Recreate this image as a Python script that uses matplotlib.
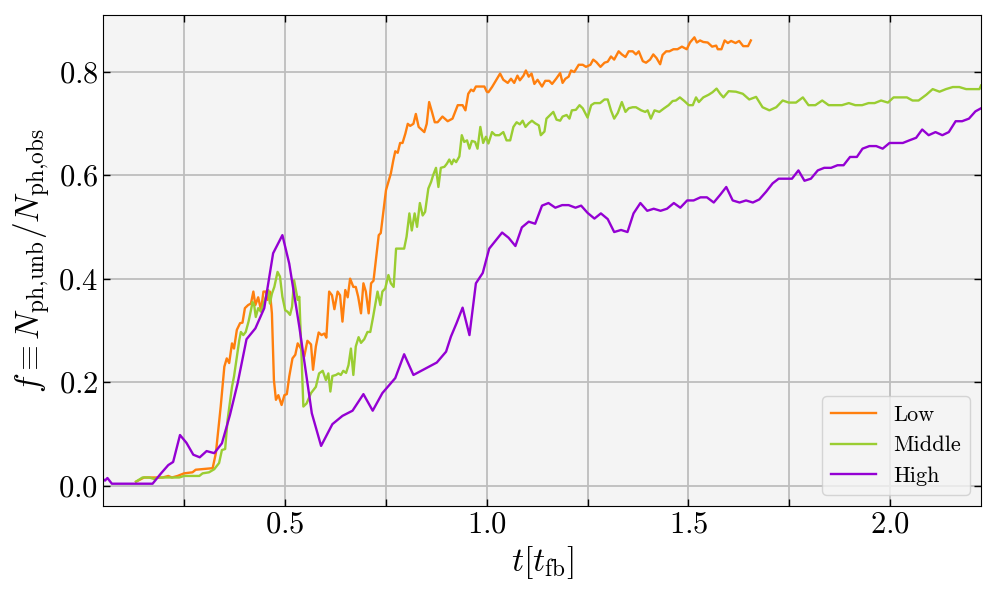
import matplotlib
matplotlib.use("Agg")
import matplotlib.pyplot as plt
from matplotlib.ticker import MultipleLocator

plt.rcParams["font.family"] = "serif"
plt.rcParams["font.serif"] = ["cmr10"]
plt.rcParams["mathtext.fontset"] = "cm"
plt.rcParams["axes.formatter.use_mathtext"] = True

# Low resolution run
t_low = [0.130, 0.150, 0.196, 0.210, 0.219, 0.233, 0.249, 0.270, 0.278, 0.320,
         0.328, 0.340, 0.349, 0.355, 0.361, 0.368, 0.373, 0.380, 0.388, 0.394,
         0.400, 0.408, 0.415, 0.421, 0.426, 0.433, 0.440, 0.446, 0.452, 0.456,
         0.462, 0.467, 0.472, 0.477, 0.483, 0.491, 0.498, 0.504, 0.510, 0.518,
         0.525, 0.531, 0.539, 0.547, 0.555, 0.564, 0.569, 0.576, 0.583, 0.590,
         0.597, 0.602, 0.609, 0.616, 0.622, 0.630, 0.636, 0.642, 0.649, 0.655,
         0.661, 0.669, 0.675, 0.681, 0.688, 0.694, 0.700, 0.707, 0.713, 0.719,
         0.725, 0.732, 0.737, 0.743, 0.750, 0.756, 0.762, 0.768, 0.773, 0.779,
         0.785, 0.791, 0.798, 0.804, 0.810, 0.818, 0.824, 0.831, 0.838, 0.845,
         0.851, 0.857, 0.864, 0.871, 0.878, 0.890, 0.903, 0.915, 0.928, 0.940,
         0.947, 0.954, 0.961, 0.967, 0.973, 0.986, 0.994, 1.000, 1.004, 1.013,
         1.023, 1.033, 1.041, 1.052, 1.060, 1.068, 1.076, 1.082, 1.091, 1.097,
         1.104, 1.111, 1.118, 1.126, 1.137, 1.145, 1.155, 1.162, 1.172, 1.182,
         1.188, 1.195, 1.203, 1.209, 1.217, 1.228, 1.238, 1.246, 1.257, 1.264,
         1.272, 1.282, 1.292, 1.300, 1.308, 1.316, 1.327, 1.335, 1.344, 1.352,
         1.362, 1.370, 1.377, 1.387, 1.395, 1.405, 1.413, 1.421, 1.430, 1.436,
         1.445, 1.453, 1.463, 1.473, 1.484, 1.496, 1.504, 1.515, 1.521, 1.529,
         1.537, 1.548, 1.559, 1.569, 1.573, 1.582, 1.590, 1.598, 1.606, 1.617,
         1.626, 1.636, 1.648, 1.655]
f_low = [0.008, 0.016, 0.016, 0.019, 0.016, 0.019, 0.024, 0.026, 0.031, 0.034,
         0.063, 0.153, 0.230, 0.246, 0.237, 0.275, 0.265, 0.301, 0.314, 0.315,
         0.343, 0.349, 0.352, 0.375, 0.349, 0.364, 0.339, 0.375, 0.375, 0.359,
         0.375, 0.333, 0.204, 0.166, 0.175, 0.156, 0.175, 0.177, 0.211, 0.246,
         0.253, 0.275, 0.265, 0.249, 0.280, 0.273, 0.224, 0.269, 0.296, 0.291,
         0.294, 0.286, 0.375, 0.368, 0.341, 0.375, 0.368, 0.317, 0.378, 0.364,
         0.400, 0.384, 0.384, 0.365, 0.333, 0.391, 0.375, 0.333, 0.391, 0.396,
         0.436, 0.484, 0.488, 0.526, 0.571, 0.587, 0.603, 0.628, 0.646, 0.643,
         0.662, 0.662, 0.680, 0.699, 0.695, 0.699, 0.718, 0.693, 0.688, 0.683,
         0.699, 0.741, 0.722, 0.702, 0.702, 0.713, 0.704, 0.709, 0.735, 0.735,
         0.725, 0.757, 0.765, 0.762, 0.771, 0.771, 0.771, 0.761, 0.760, 0.770,
         0.783, 0.796, 0.784, 0.778, 0.786, 0.778, 0.792, 0.783, 0.792, 0.802,
         0.790, 0.796, 0.776, 0.784, 0.771, 0.782, 0.782, 0.776, 0.786, 0.797,
         0.778, 0.786, 0.790, 0.802, 0.799, 0.813, 0.813, 0.809, 0.813, 0.823,
         0.818, 0.809, 0.817, 0.819, 0.829, 0.823, 0.839, 0.833, 0.828, 0.839,
         0.839, 0.833, 0.839, 0.820, 0.817, 0.823, 0.833, 0.826, 0.814, 0.832,
         0.839, 0.839, 0.843, 0.843, 0.848, 0.843, 0.856, 0.866, 0.856, 0.860,
         0.857, 0.856, 0.848, 0.850, 0.843, 0.843, 0.860, 0.855, 0.859, 0.855,
         0.859, 0.849, 0.849, 0.860]

# Middle resolution run
t_mid = [0.130, 0.146, 0.163, 0.175, 0.183, 0.237, 0.249, 0.287, 0.295, 0.311,
         0.324, 0.336, 0.343, 0.351, 0.357, 0.368, 0.373, 0.379, 0.386, 0.390,
         0.396, 0.402, 0.409, 0.415, 0.419, 0.423, 0.427, 0.433, 0.440, 0.445,
         0.452, 0.458, 0.462, 0.467, 0.473, 0.481, 0.487, 0.493, 0.500, 0.506,
         0.512, 0.517, 0.522, 0.531, 0.535, 0.545, 0.553, 0.564, 0.576, 0.584,
         0.593, 0.601, 0.607, 0.612, 0.617, 0.626, 0.632, 0.638, 0.644, 0.651,
         0.657, 0.663, 0.669, 0.675, 0.682, 0.688, 0.696, 0.704, 0.711, 0.718,
         0.729, 0.736, 0.741, 0.748, 0.756, 0.762, 0.769, 0.775, 0.795, 0.801,
         0.808, 0.814, 0.821, 0.827, 0.834, 0.841, 0.847, 0.855, 0.862, 0.867,
         0.874, 0.880, 0.886, 0.895, 0.901, 0.907, 0.913, 0.918, 0.924, 0.932,
         0.938, 0.944, 0.951, 0.957, 0.963, 0.971, 0.977, 0.984, 0.991, 0.998,
         1.004, 1.013, 1.021, 1.031, 1.041, 1.049, 1.058, 1.066, 1.074, 1.082,
         1.089, 1.096, 1.104, 1.112, 1.120, 1.129, 1.134, 1.143, 1.148, 1.157,
         1.165, 1.173, 1.182, 1.188, 1.198, 1.205, 1.211, 1.221, 1.230, 1.238,
         1.250, 1.259, 1.267, 1.281, 1.292, 1.300, 1.308, 1.316, 1.325, 1.335,
         1.344, 1.352, 1.362, 1.370, 1.383, 1.393, 1.399, 1.407, 1.416, 1.428,
         1.440, 1.451, 1.461, 1.469, 1.479, 1.490, 1.501, 1.511, 1.519, 1.526,
         1.537, 1.550, 1.560, 1.570, 1.579, 1.587, 1.600, 1.618, 1.635, 1.651,
         1.668, 1.684, 1.701, 1.718, 1.734, 1.749, 1.767, 1.784, 1.798, 1.815,
         1.832, 1.848, 1.865, 1.881, 1.898, 1.914, 1.931, 1.947, 1.962, 1.978,
         1.995, 2.009, 2.024, 2.042, 2.056, 2.071, 2.090, 2.106, 2.123, 2.139,
         2.156, 2.172, 2.189, 2.207, 2.222, 2.226]
f_mid = [0.008, 0.016, 0.016, 0.013, 0.016, 0.016, 0.019, 0.019, 0.024, 0.026,
         0.032, 0.044, 0.069, 0.071, 0.127, 0.191, 0.211, 0.243, 0.281, 0.297,
         0.291, 0.297, 0.317, 0.339, 0.355, 0.349, 0.326, 0.343, 0.336, 0.349,
         0.365, 0.378, 0.352, 0.371, 0.384, 0.413, 0.404, 0.365, 0.339, 0.336,
         0.330, 0.346, 0.397, 0.359, 0.365, 0.153, 0.159, 0.179, 0.191, 0.217,
         0.222, 0.204, 0.217, 0.182, 0.212, 0.214, 0.217, 0.214, 0.222, 0.218,
         0.233, 0.265, 0.214, 0.269, 0.287, 0.276, 0.283, 0.297, 0.297, 0.326,
         0.375, 0.349, 0.375, 0.381, 0.407, 0.391, 0.384, 0.458, 0.458, 0.481,
         0.526, 0.493, 0.526, 0.500, 0.546, 0.522, 0.529, 0.574, 0.587, 0.600,
         0.614, 0.577, 0.614, 0.616, 0.622, 0.630, 0.621, 0.630, 0.625, 0.636,
         0.677, 0.664, 0.667, 0.651, 0.666, 0.664, 0.651, 0.693, 0.662, 0.674,
         0.661, 0.683, 0.677, 0.677, 0.683, 0.667, 0.667, 0.693, 0.702, 0.698,
         0.705, 0.693, 0.700, 0.705, 0.700, 0.696, 0.677, 0.684, 0.709, 0.716,
         0.722, 0.707, 0.705, 0.713, 0.716, 0.709, 0.725, 0.726, 0.735, 0.729,
         0.711, 0.735, 0.739, 0.739, 0.746, 0.746, 0.725, 0.709, 0.720, 0.741,
         0.722, 0.729, 0.731, 0.731, 0.725, 0.722, 0.725, 0.709, 0.725, 0.722,
         0.729, 0.735, 0.743, 0.744, 0.750, 0.743, 0.735, 0.735, 0.750, 0.741,
         0.750, 0.755, 0.760, 0.767, 0.757, 0.750, 0.762, 0.761, 0.757, 0.746,
         0.751, 0.731, 0.725, 0.731, 0.744, 0.740, 0.740, 0.750, 0.735, 0.735,
         0.744, 0.735, 0.735, 0.735, 0.739, 0.735, 0.735, 0.739, 0.739, 0.744,
         0.740, 0.750, 0.750, 0.750, 0.744, 0.744, 0.755, 0.766, 0.761, 0.766,
         0.770, 0.770, 0.766, 0.766, 0.766, 0.773]

# High resolution run
t_high = [0.048, 0.053, 0.059, 0.070, 0.171, 0.192, 0.210, 0.222, 0.239, 0.255,
          0.272, 0.288, 0.305, 0.324, 0.343, 0.363, 0.382, 0.404, 0.426, 0.448,
          0.470, 0.493, 0.510, 0.535, 0.566, 0.589, 0.617, 0.642, 0.667, 0.694,
          0.717, 0.741, 0.773, 0.795, 0.818, 0.876, 0.899, 0.911, 0.925, 0.940,
          0.957, 0.973, 0.990, 1.006, 1.038, 1.054, 1.071, 1.087, 1.104, 1.120,
          1.137, 1.153, 1.170, 1.187, 1.203, 1.220, 1.234, 1.250, 1.267, 1.283,
          1.300, 1.316, 1.333, 1.349, 1.364, 1.381, 1.398, 1.414, 1.431, 1.447,
          1.464, 1.480, 1.497, 1.513, 1.530, 1.546, 1.563, 1.579, 1.594, 1.610,
          1.627, 1.643, 1.660, 1.676, 1.693, 1.709, 1.724, 1.741, 1.757, 1.773,
          1.788, 1.804, 1.821, 1.837, 1.854, 1.870, 1.885, 1.901, 1.918, 1.932,
          1.949, 1.966, 1.982, 1.999, 2.015, 2.032, 2.048, 2.065, 2.080, 2.096,
          2.113, 2.130, 2.146, 2.163, 2.179, 2.196, 2.212, 2.226]
f_high = [0.013, 0.010, 0.015, 0.004, 0.004, 0.024, 0.040, 0.046, 0.098, 0.083,
          0.060, 0.055, 0.067, 0.063, 0.082, 0.137, 0.198, 0.283, 0.304, 0.343,
          0.449, 0.484, 0.429, 0.307, 0.140, 0.077, 0.119, 0.135, 0.145, 0.177,
          0.145, 0.179, 0.208, 0.254, 0.214, 0.238, 0.259, 0.288, 0.314, 0.344,
          0.291, 0.391, 0.411, 0.458, 0.489, 0.479, 0.463, 0.499, 0.510, 0.506,
          0.541, 0.546, 0.537, 0.542, 0.542, 0.537, 0.541, 0.527, 0.516, 0.526,
          0.515, 0.490, 0.494, 0.490, 0.526, 0.546, 0.531, 0.535, 0.531, 0.535,
          0.546, 0.537, 0.551, 0.551, 0.557, 0.557, 0.547, 0.562, 0.577, 0.551,
          0.547, 0.551, 0.547, 0.553, 0.568, 0.584, 0.593, 0.593, 0.593, 0.609,
          0.589, 0.593, 0.609, 0.614, 0.614, 0.619, 0.619, 0.635, 0.635, 0.651,
          0.656, 0.656, 0.651, 0.662, 0.662, 0.662, 0.667, 0.672, 0.688, 0.677,
          0.683, 0.677, 0.683, 0.704, 0.704, 0.709, 0.723, 0.729]

SERIES = [
    ("Low", t_low, f_low, "#ff7f0e"),
    ("Middle", t_mid, f_mid, "yellowgreen"),
    ("High", t_high, f_high, "darkviolet"),
]

fig = plt.figure(figsize=(9.97, 5.98), dpi=100)
ax = fig.add_axes([0.1033, 0.1538, 0.8807, 0.8211])
ax.set_facecolor("#f4f4f4")

for label, t, f, color in SERIES:
  ax.plot(t, f, color=color, lw=1.7, label=label)

ax.set_xlim(min(t_high), max(t_high))

ax.xaxis.set_major_locator(MultipleLocator(0.5))
ax.xaxis.set_minor_locator(MultipleLocator(0.25))
ax.yaxis.set_major_locator(MultipleLocator(0.2))
ax.grid(True, which="both", axis="x", color="#bdbdbd", lw=1.3)
ax.grid(True, which="major", axis="y", color="#bdbdbd", lw=1.3)
ax.set_axisbelow(True)
ax.tick_params(which="both", direction="in", top=True, right=True,
               length=5, width=1, labelsize=22)

ax.set_xlabel(r"$t[t_{\rm fb}]$", fontsize=24)
ax.set_ylabel(r"$f \equiv N_{\rm ph{,}unb}/N_{\rm ph{,}obs}$", fontsize=24)

leg = ax.legend(loc="lower right", fontsize=16, fancybox=True, framealpha=0.8,
                edgecolor="#cccccc", facecolor="#f4f4f4")

fig.savefig("out.png", dpi=100)
